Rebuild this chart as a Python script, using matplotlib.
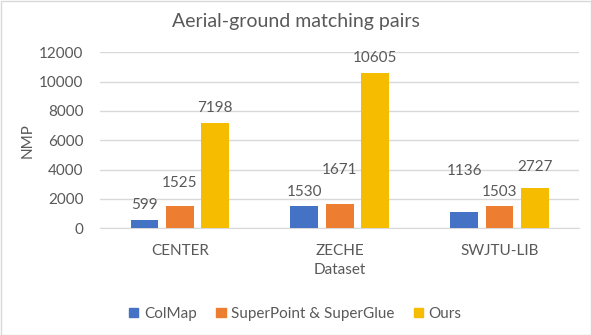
import matplotlib
matplotlib.use("Agg")
import matplotlib.pyplot as plt
import numpy as np
from matplotlib.patches import Rectangle

categories = ["CENTER", "ZECHE", "SWJTU-LIB"]
series_names = ["ColMap", "SuperPoint & SuperGlue", "Ours"]
colmap = [599, 1530, 1136]
spsg = [1525, 1671, 1503]
ours = [7198, 10605, 2727]
yticks = [0, 2000, 4000, 6000, 8000, 10000, 12000]

# label lift above bar top (pixels), per series then category
label_lift = [[15, 14.3, 40.3], [23.3, 33.3, 14.3], [14.4, 14.3, 21.4]]

colors = ["#4472C4", "#ED7D31", "#F5BC00"]
txt = "#595959"
plt.rcParams['font.family'] = ['Lato', 'DejaVu Sans']

fig = plt.figure(figsize=(5.91, 3.35), dpi=100)
ax = fig.add_axes([100/591, 1-228.3/335, 479.4/591, 176/335])

x = np.arange(len(categories))
w = 0.174
step = 0.221
for i, (vals, name) in enumerate(zip([colmap, spsg, ours], series_names)):
    xs = x + (i-1)*step
    ax.bar(xs, vals, w, color=colors[i], label=name, zorder=3)
    for j, (xx, v) in enumerate(zip(xs, vals)):
        ax.annotate(str(v), (xx, v), xytext=(0, label_lift[i][j]*0.72), textcoords='offset points',
                    ha='center', va='center', fontsize=11, color=txt)

ax.set_xlim(-0.5, 2.5)
ax.set_ylim(0, 12000)
ax.set_yticks(yticks)
ax.set_yticklabels([str(t) for t in yticks], fontsize=11, color=txt)
ax.set_xticks(x)
ax.set_xticklabels(categories, fontsize=11, color=txt)
ax.tick_params(length=0)
ax.tick_params(axis='y', pad=12)
ax.tick_params(axis='x', pad=11)
ax.grid(axis='y', color="#D9D9D9", linewidth=1, zorder=0)
for s in ['top', 'right', 'left']:
    ax.spines[s].set_visible(False)
ax.spines['bottom'].set_color("#D9D9D9")
ax.set_xlabel("Dataset", fontsize=11, color=txt, labelpad=4)
ax.set_ylabel("NMP", fontsize=11, color=txt, labelpad=3)

fig.text(0.5, 1-22/335, "Aerial-ground matching pairs", ha='center', va='center', fontsize=14, color=txt)

handles = [Rectangle((0, 0), 1, 1, color=c) for c in colors]
fig.legend(handles, series_names, loc='center', bbox_to_anchor=(0.5, 1-314/335), ncol=3,
           frameon=False, fontsize=11, labelcolor=txt, handlelength=0.6, handleheight=0.6,
           handletextpad=0.35, columnspacing=1.3)

fig.add_artist(Rectangle((0.5/591, 0.5/335), 1-1/591, 1-1/335, transform=fig.transFigure,
                         fill=False, edgecolor="#D9D9D9", linewidth=1))
fig.savefig("out.png", dpi=100)
